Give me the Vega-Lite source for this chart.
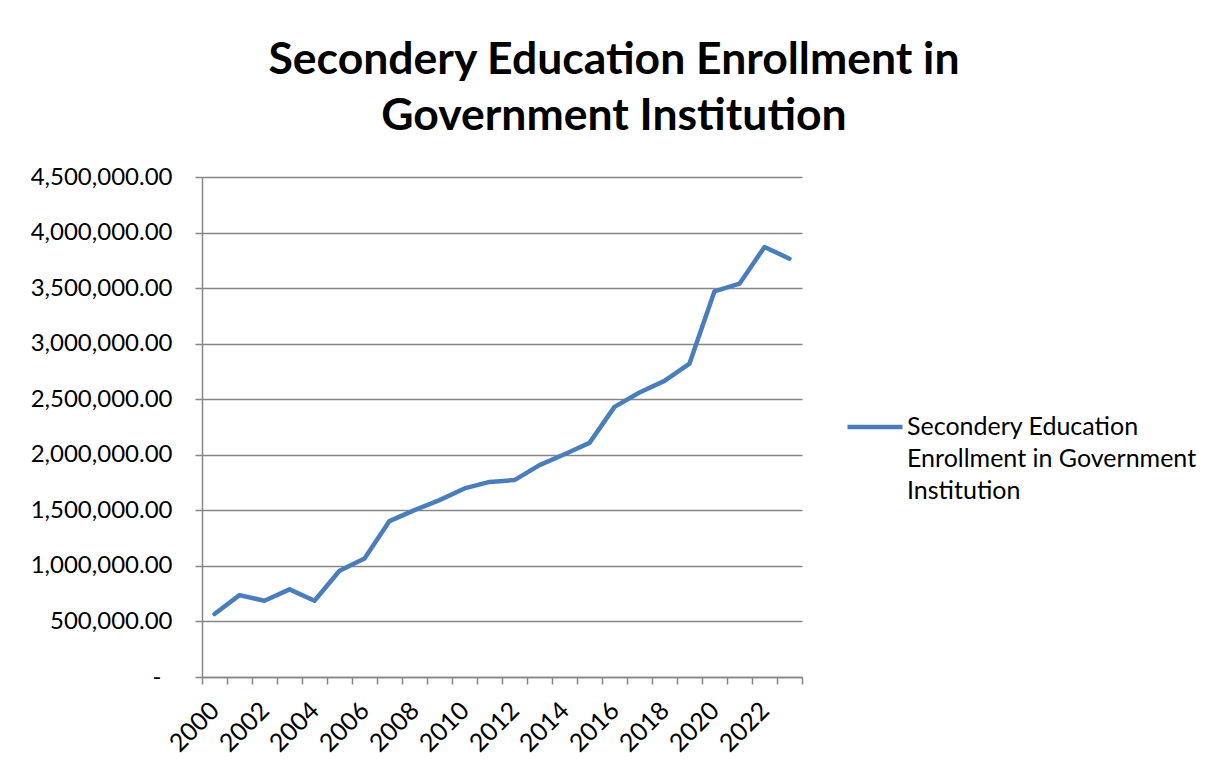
{
  "$schema": "https://vega.github.io/schema/vega-lite/v6.json",
  "width": 600,
  "height": 500,
  "autosize": {"type": "none"},
  "padding": {"left": 202, "top": 177, "right": 419, "bottom": 93},
  "background": "white",
  "title": {
    "text": ["Secondery Education Enrollment in", "Government Institution"],
    "font": "Lato",
    "fontSize": 44.5,
    "fontWeight": "bold",
    "color": "black",
    "anchor": "middle",
    "frame": "group",
    "dx": 112,
    "lineHeight": 56,
    "baseline": "alphabetic",
    "offset": -9
  },
  "data": {
    "values": [
      {"year": "2000", "enrollment": 567000, "series": "Secondery Education Enrollment in Government Institution"},
      {"year": "2001", "enrollment": 737000, "series": "Secondery Education Enrollment in Government Institution"},
      {"year": "2002", "enrollment": 686000, "series": "Secondery Education Enrollment in Government Institution"},
      {"year": "2003", "enrollment": 789000, "series": "Secondery Education Enrollment in Government Institution"},
      {"year": "2004", "enrollment": 686000, "series": "Secondery Education Enrollment in Government Institution"},
      {"year": "2005", "enrollment": 956000, "series": "Secondery Education Enrollment in Government Institution"},
      {"year": "2006", "enrollment": 1067000, "series": "Secondery Education Enrollment in Government Institution"},
      {"year": "2007", "enrollment": 1403000, "series": "Secondery Education Enrollment in Government Institution"},
      {"year": "2008", "enrollment": 1502000, "series": "Secondery Education Enrollment in Government Institution"},
      {"year": "2009", "enrollment": 1592000, "series": "Secondery Education Enrollment in Government Institution"},
      {"year": "2010", "enrollment": 1697000, "series": "Secondery Education Enrollment in Government Institution"},
      {"year": "2011", "enrollment": 1756000, "series": "Secondery Education Enrollment in Government Institution"},
      {"year": "2012", "enrollment": 1772000, "series": "Secondery Education Enrollment in Government Institution"},
      {"year": "2013", "enrollment": 1907000, "series": "Secondery Education Enrollment in Government Institution"},
      {"year": "2014", "enrollment": 2005000, "series": "Secondery Education Enrollment in Government Institution"},
      {"year": "2015", "enrollment": 2107000, "series": "Secondery Education Enrollment in Government Institution"},
      {"year": "2016", "enrollment": 2431000, "series": "Secondery Education Enrollment in Government Institution"},
      {"year": "2017", "enrollment": 2560000, "series": "Secondery Education Enrollment in Government Institution"},
      {"year": "2018", "enrollment": 2665000, "series": "Secondery Education Enrollment in Government Institution"},
      {"year": "2019", "enrollment": 2821000, "series": "Secondery Education Enrollment in Government Institution"},
      {"year": "2020", "enrollment": 3471000, "series": "Secondery Education Enrollment in Government Institution"},
      {"year": "2021", "enrollment": 3540000, "series": "Secondery Education Enrollment in Government Institution"},
      {"year": "2022", "enrollment": 3870000, "series": "Secondery Education Enrollment in Government Institution"},
      {"year": "2023", "enrollment": 3765000, "series": "Secondery Education Enrollment in Government Institution"}
    ]
  },
  "mark": {"type": "line", "strokeWidth": 4.5, "strokeCap": "round", "strokeJoin": "round"},
  "encoding": {
    "x": {
      "field": "year",
      "type": "ordinal",
      "bandPosition": 0.5,
      "scale": {"type": "band", "paddingInner": 0, "paddingOuter": 0},
      "axis": {
        "title": null,
        "grid": false,
        "tickBand": "extent",
        "labelAngle": -45,
        "labelAlign": "right",
        "labelBaseline": "middle",
        "labelExpr": "parseInt(datum.value) % 2 == 0 ? datum.value : ''",
        "labelFont": "Lato",
        "labelFontSize": 25,
        "labelColor": "black",
        "labelPadding": 22,
        "labelOverlap": false,
        "domainColor": "#868686",
        "domainWidth": 1.5,
        "tickColor": "#868686",
        "tickWidth": 1.5,
        "tickSize": 7
      }
    },
    "y": {
      "field": "enrollment",
      "type": "quantitative",
      "scale": {"domain": [0, 4500000], "nice": false},
      "axis": {
        "title": null,
        "values": [0, 500000, 1000000, 1500000, 2000000, 2500000, 3000000, 3500000, 4000000, 4500000],
        "labelExpr": "datum.value == 0 ? '-' : format(datum.value, ',.2f')",
        "labelFont": "Lato",
        "labelFontSize": 24,
        "labelColor": "black",
        "labelPadding": {"condition": {"test": "datum.value == 0", "value": 34}, "value": 23},
        "gridColor": "#868686",
        "gridWidth": 1.5,
        "domainColor": "#868686",
        "domainWidth": 1.5,
        "tickColor": "#868686",
        "tickWidth": 1.5,
        "tickSize": 7
      }
    },
    "color": {
      "field": "series",
      "type": "nominal",
      "scale": {"range": ["#4A7EBB"]},
      "legend": {
        "title": null,
        "orient": "none",
        "legendX": 643,
        "legendY": 220,
        "symbolType": "stroke",
        "symbolSize": 3025,
        "symbolStrokeWidth": 4.5,
        "labelFont": "Lato",
        "labelFontSize": 25,
        "labelColor": "black",
        "labelBaseline": "alphabetic",
        "labelLimit": 400,
        "labelOffset": 2,
        "labelExpr": "['Secondery Education', 'Enrollment in Government', 'Institution']",
        "padding": 0,
        "encode": {
          "labels": {
            "update": {
              "dy": {"value": 8},
              "lineHeight": {"value": 32}
            }
          }
        }
      }
    }
  },
  "config": {"view": {"stroke": null}}
}
